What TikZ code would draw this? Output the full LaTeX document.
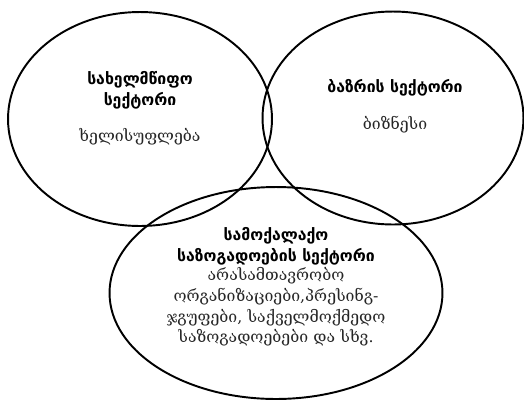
\documentclass[tikz,border=0pt]{standalone}
\usepackage{fontspec}
\setmainfont{DejaVu Serif}
\newfontfamily\titlefont{DejaVu Sans}
\usetikzlibrary{shapes.geometric}

\begin{document}
\begin{tikzpicture}[x=0.02cm, y=-0.02cm, every node/.style={font=\small}]
    \tikzset{
        sector/.style={draw, ellipse, line width=1.1pt, inner sep=0pt},
        title/.style={font=\titlefont\bfseries\fontsize{9}{12}\selectfont, align=center,
            execute at begin node=\setlength{\baselineskip}{12pt}},
        body/.style={font=\fontsize{9}{11.6}\selectfont, align=center, text=black!85,
            execute at begin node=\setlength{\baselineskip}{11.7pt}}
    }
    \useasboundingbox (0,0) rectangle (524,400);
    % three sectors
    \node[sector, minimum width=5.28cm, minimum height=4.28cm] (state) at (140,119) {};
    \node[sector, minimum width=5.22cm, minimum height=4.26cm] (market) at (393,118) {};
    \node[sector, minimum width=6.66cm, minimum height=4.24cm] (civil) at (276,293) {};
    % labels
    \node[title] (statet) at (140,90) {სახელმწიფო\\სექტორი};
    \node[body] (stateb) at (140,137) {ხელისუფლება};
    \node[title] (markett) at (395,88) {ბაზრის სექტორი};
    \node[body] (marketb) at (395,125) {ბიზნესი};
    \node[title] (civilt) at (276,246) {სამოქალაქო\\საზოგადოების სექტორი};
    \node[body, text width=5cm, align=center] (civilb) at (276,307) {არასამთავრობო\\ორგანიზაციები,პრესინგ-\\ჯგუფები, საქველმოქმედო\\საზოგადოებები და სხვ.};
\end{tikzpicture}
\end{document}
